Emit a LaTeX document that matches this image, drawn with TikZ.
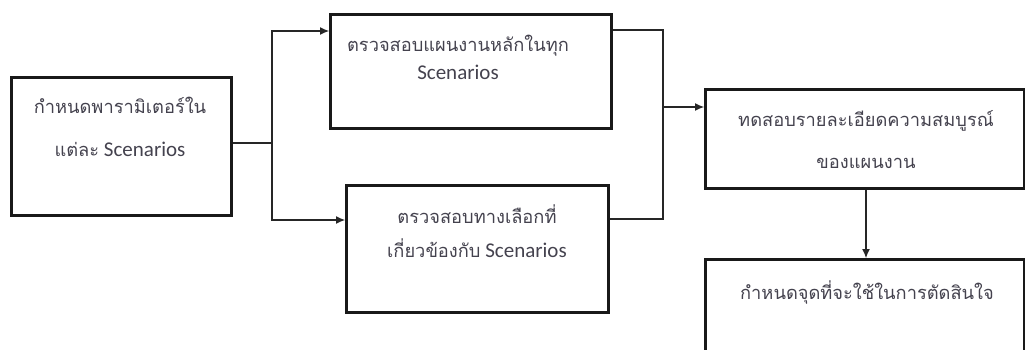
\documentclass[tikz,border=0pt]{standalone}
\usepackage{fontspec}
\setmainfont{Carlito}
\newfontfamily\thaifont[Script=Thai,Scale=0.87]{Loma}
\usetikzlibrary{arrows.meta}
\definecolor{txt}{HTML}{44424E}
\tikzset{
  x=1pt, y=-1pt,
  box/.style={draw=black!90, line width=2.8pt, inner sep=0pt, anchor=north west},
  lbl/.style={text=txt, align=center, inner sep=0pt},
  conn/.style={draw=black!85, line width=1.1pt},
  arr/.style={conn, -{Latex[length=9pt,width=8pt]}}
}
\newcommand{\thx}[1]{{\thaifont #1}}
\begin{document}
\begin{tikzpicture}
\useasboundingbox (0,0) rectangle (1025,349);
\clip (0,0) rectangle (1025,349);
% boxes
\node[box, minimum width=220pt, minimum height=138pt] (b1) at (10,76) {};
\node[box, minimum width=281pt, minimum height=114pt] (b2) at (329,13) {};
\node[box, minimum width=262pt, minimum height=127pt] (b3) at (345,184) {};
\node[box, minimum width=319pt, minimum height=99pt] (b4) at (704,88) {};
\node[box, minimum width=319pt, minimum height=140pt] (b5) at (704,258) {};
% texts
\node[lbl, font=\fontsize{21}{43}\selectfont] (t1) at (120,127) {\thx{กำหนดพารามิเตอร์ใน}\\\thx{แต่ละ} Scenarios};
\node[lbl, font=\fontsize{21}{28}\selectfont] (t2) at (458,57) {\thx{ตรวจสอบแผนงานหลักในทุก}\\Scenarios};
\node[lbl, font=\fontsize{21}{34}\selectfont] (t3) at (477,231) {\thx{ตรวจสอบทางเลือกที่}\\\thx{เกี่ยวข้องกับ} Scenarios};
\node[lbl, font=\fontsize{21}{42}\selectfont] (t4) at (866,140) {\thx{ทดสอบรายละเอียดความสมบูรณ์}\\\thx{ของแผนงาน}};
\node[lbl, font=\fontsize{21}{28}\selectfont] (t5) at (867,292) {\thx{กำหนดจุดที่จะใช้ในการตัดสินใจ}};
% connectors
\coordinate (s1) at (272,143);
\coordinate (s2) at (663,107);
\draw[conn] (b1.east |- s1) -- (s1);
\draw[arr] (s1) |- (b2.west |- 0,31);
\draw[arr] (s1) |- (b3.west |- 0,220);
\draw[conn] (b2.east |- 0,30) -| (s2);
\draw[conn] (b3.east |- 0,219) -| (s2);
\draw[arr] (s2) -- (b4.west |- s2);
\draw[arr] (b4.south -| 866,0) -- (b5.north -| 866,0);
\end{tikzpicture}
\end{document}
